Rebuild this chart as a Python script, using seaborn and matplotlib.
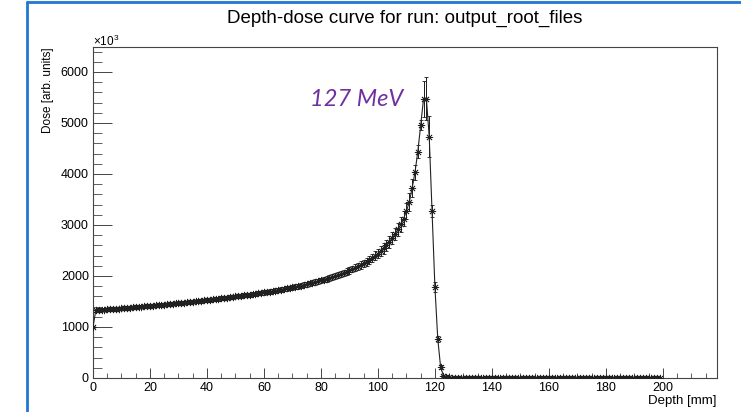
import numpy as np
import matplotlib
matplotlib.use("Agg")
import matplotlib.pyplot as plt
from matplotlib.lines import Line2D
from matplotlib.ticker import MultipleLocator
import seaborn as sns

# ---------------- data ----------------
depth_mm = np.arange(0, 200)  # bin positions, 1 mm bins

dose_plateau = [
    1000,
    1330, 1334, 1338, 1342, 1346, 1350, 1354, 1358, 1362, 1366,
    1370, 1375, 1380, 1385, 1390, 1395, 1400, 1405, 1410, 1415,
    1420, 1425, 1430, 1435, 1440, 1445, 1450, 1455, 1461, 1467,
    1473, 1479, 1485, 1491, 1497, 1503, 1509, 1515, 1521, 1528,
    1535, 1542, 1549, 1556, 1563, 1570, 1577, 1584, 1591, 1598,
    1605, 1612, 1620, 1628, 1636, 1644, 1652, 1660, 1668, 1677,
    1686, 1695, 1704, 1714, 1724, 1734, 1744, 1755, 1766, 1777,
    1789, 1801, 1813, 1826, 1839, 1853, 1867, 1882, 1897, 1913,
    1929, 1946, 1963, 1981, 2000, 2020, 2041, 2063, 2086, 2110,
    2135, 2161, 2188, 2217, 2248, 2281, 2316, 2354, 2395, 2440,
    2490, 2545, 2605, 2670, 2742, 2822, 2912, 3012, 3125, 3270, 3450,
]
dose_peak = [3720, 4030, 4440, 4960, 5470, 5480, 4730, 3275, 1785, 765, 215, 45]
dose_tail = [
    14, 10, 9, 8, 8, 7, 7, 7, 6, 6,
    6, 6, 6, 5, 5, 5, 5, 5, 5, 5,
    5, 5, 5, 4, 4, 4, 4, 4, 4, 4,
    4, 5, 4, 4, 4, 3, 4, 4, 3, 4,
    3, 4, 3, 3, 4, 3, 3, 3, 3, 3,
    3, 3, 3, 3, 3, 3, 3, 2, 3, 3,
    3, 2, 3, 2, 2, 3, 2, 2, 2, 2,
    2, 2, 2, 2, 2, 2,
]
dose = np.array(dose_plateau + dose_peak + dose_tail, dtype=float)

err_plateau = [
    25,
    30, 30, 30, 30, 30, 30, 30, 30, 30, 30,
    30, 30, 31, 31, 31, 31, 31, 31, 32, 32,
    32, 32, 32, 32, 33, 33, 33, 33, 33, 34,
    34, 34, 34, 34, 35, 35, 35, 35, 35, 36,
    36, 36, 36, 37, 37, 37, 37, 38, 38, 38,
    38, 39, 39, 39, 40, 40, 40, 41, 41, 41,
    42, 42, 42, 43, 43, 44, 44, 45, 45, 46,
    46, 47, 47, 48, 48, 49, 50, 50, 51, 52,
    53, 54, 55, 56, 57, 58, 59, 60, 62, 64,
    66, 68, 70, 72, 75, 78, 81, 85, 90, 95,
    100, 105, 110, 115, 120, 125, 130, 140, 150, 160, 170,
]
err_peak = [180, 150, 120, 100, 350, 430, 400, 110, 90, 60, 40, 20]
err_tail = [
    4, 3, 3, 3, 3, 3, 3, 3, 3, 3,
    3, 3, 3, 2, 2, 2, 2, 2, 2, 2,
    2, 2, 2, 2, 2, 2, 2, 2, 2, 2,
    2, 2, 2, 2, 2, 2, 2, 2, 2, 2,
    2, 2, 2, 2, 2, 2, 2, 2, 2, 2,
    2, 2, 2, 2, 2, 2, 2, 2, 2, 2,
    2, 2, 2, 2, 2, 2, 2, 2, 2, 2,
    2, 2, 2, 2, 2, 2,
]
dose_err = np.array(err_plateau + err_peak + err_tail, dtype=float)

x_ticks = [0, 20, 40, 60, 80, 100, 120, 140, 160, 180, 200]
y_ticks = [0, 1000, 2000, 3000, 4000, 5000, 6000]

title_text = "Depth-dose curve for run: output_root_files"
energy_label = "127 MeV"

# ---------------- style ----------------
sns.set_theme(style="ticks")
plt.rcParams["font.family"] = ["Liberation Sans", "DejaVu Sans"]
plt.rcParams["mathtext.fontset"] = "custom"
plt.rcParams["mathtext.rm"] = "Liberation Sans"

W, H = 741, 412
fig = plt.figure(figsize=(W / 100, H / 100), dpi=100)
fig.patch.set_facecolor("white")

ax_l, ax_r, ax_t, ax_b = 93, 717, 47, 378
ax = fig.add_axes([ax_l / W, 1 - ax_b / H, (ax_r - ax_l) / W, (ax_b - ax_t) / H])
ax.set_facecolor("white")

ax.errorbar(depth_mm, dose, yerr=dose_err, fmt="none", ecolor="#1a1a1a",
            elinewidth=0.7, capsize=1.6, capthick=0.6, zorder=2)
sns.lineplot(x=depth_mm, y=dose, ax=ax, color="#222222", linewidth=0.8,
             marker=(8, 2, 0), markersize=5.2, markeredgecolor="#202020",
             markeredgewidth=0.55, markerfacecolor="none", zorder=3,
             errorbar=None)

ax.set_xlim(0, 219)
ax.set_ylim(0, 6490)
ax.set_xticks(x_ticks)
ax.set_yticks(y_ticks)
ax.set_xticklabels([str(v) for v in x_ticks])
ax.set_yticklabels([str(v) for v in y_ticks])
ax.xaxis.set_minor_locator(MultipleLocator(5))
ax.yaxis.set_minor_locator(MultipleLocator(200))

ax.tick_params(axis="x", which="major", direction="in", length=7.2, width=0.7,
               color="#444444", labelsize=9, pad=3, labelcolor="black")
ax.tick_params(axis="x", which="minor", direction="in", length=3.6, width=0.6,
               color="#444444")
ax.tick_params(axis="y", which="major", direction="in", length=13.7, width=0.7,
               color="#444444", labelsize=9, pad=3, labelcolor="black")
ax.tick_params(axis="y", which="minor", direction="in", length=6.5, width=0.6,
               color="#444444")
for s in ax.spines.values():
    s.set_color("#444444")
    s.set_linewidth(0.8)
    s.set_visible(True)
ax.set_xlabel("")
ax.set_ylabel("")
ax.grid(False)

# axis titles, ROOT style
fig.text(ax_r / W, 1 - 401 / H, "Depth [mm]", ha="right", va="center",
         fontsize=9.5, color="black")
fig.text(48 / W, 1 - ax_t / H, "Dose [arb. units]", rotation=90, ha="center",
         va="top", fontsize=8.5, color="black")
fig.text(ax_l / W, 1 - 46 / H, r"$\times$10$^{3}$", ha="left", va="baseline",
         fontsize=8.5, color="black")

# title
fig.text(405 / W, 1 - 18 / H, title_text, ha="center", va="center",
         fontsize=13.5, color="black")

# energy annotation
fig.text(357 / W, 1 - 100 / H, energy_label, ha="center", va="center",
         fontsize=17, color="#7030A0", style="italic",
         family=["Lato", "DejaVu Sans"])

# blue slide frame (top and left edges)
fig.add_artist(Line2D([27 / W, 27 / W], [0, 1 - 2 / H], transform=fig.transFigure,
                      color="#1F78D1", linewidth=2))
fig.add_artist(Line2D([27 / W, 1], [1 - 2 / H, 1 - 2 / H], transform=fig.transFigure,
                      color="#1F78D1", linewidth=2))

fig.savefig("out.png", dpi=100, facecolor="white")
